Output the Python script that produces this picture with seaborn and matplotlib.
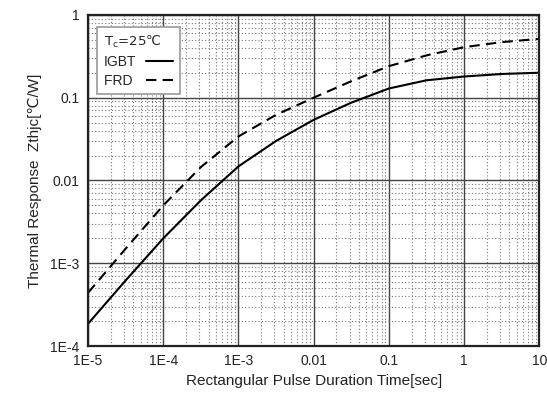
import numpy as np
import pandas as pd
import matplotlib
matplotlib.use("Agg")
import matplotlib.pyplot as plt
import matplotlib.ticker as mticker
from matplotlib.font_manager import FontProperties
import seaborn as sns

# Data (pulse duration [s], Zthjc [°C/W])
t = [1e-5, 3.16e-5, 1e-4, 3.16e-4, 1e-3, 3.16e-3, 1e-2, 3.16e-2, 1e-1, 3.16e-1, 1, 3.16, 10]
igbt = [1.86e-4, 6.2e-4, 2.0e-3, 5.75e-3, 1.48e-2, 3.0e-2, 5.4e-2, 8.7e-2, 0.129, 0.162, 0.18, 0.193, 0.2]
frd = [4.4e-4, 1.5e-3, 5.0e-3, 1.45e-2, 3.4e-2, 6.2e-2, 0.10, 0.158, 0.24, 0.324, 0.407, 0.468, 0.513]

x_ticks = [1e-5, 1e-4, 1e-3, 1e-2, 1e-1, 1, 10]
x_labels = ["1E-5", "1E-4", "1E-3", "0.01", "0.1", "1", "10"]
y_ticks = [1e-4, 1e-3, 1e-2, 1e-1, 1]
y_labels = ["1E-4", "1E-3", "0.01", "0.1", "1"]

sns.set_style("white")
plt.rcParams["font.family"] = ["Liberation Sans", "DejaVu Sans"]

df = pd.DataFrame({"t": t * 2, "z": igbt + frd,
                   "dev": ["IGBT"] * len(t) + ["FRD"] * len(t)})

fig = plt.figure(figsize=(5.47, 4.01), dpi=100)
ax = fig.add_axes([0.161, 0.137, 0.825, 0.826])

sns.lineplot(data=df[df.dev == "IGBT"], x="t", y="z", ax=ax, color="black",
             linewidth=1.5, label="IGBT")
sns.lineplot(data=df[df.dev == "FRD"], x="t", y="z", ax=ax, color="black",
             linewidth=1.5, linestyle=(0, (5, 3)), label="FRD")

ax.set_xscale("log")
ax.set_yscale("log")
ax.set_xlim(1e-5, 10)
ax.set_ylim(1e-4, 1)
ax.set_xticks(x_ticks)
ax.set_xticklabels(x_labels)
ax.set_yticks(y_ticks)
ax.set_yticklabels(y_labels)
ax.xaxis.set_minor_locator(mticker.LogLocator(base=10, subs=np.arange(2, 10)))
ax.yaxis.set_minor_locator(mticker.LogLocator(base=10, subs=np.arange(2, 10)))
ax.xaxis.set_minor_formatter(mticker.NullFormatter())
ax.yaxis.set_minor_formatter(mticker.NullFormatter())

ax.grid(True, which="major", color="#444444", linewidth=1.0)
ax.grid(True, which="minor", color="#777777", linewidth=0.8, linestyle=(0, (1, 2)))
ax.tick_params(axis="both", which="both", length=0, labelsize=10, pad=6, colors="#222222")
for s in ax.spines.values():
    s.set_color("#222222")
    s.set_linewidth(1.6)

ax.set_xlabel("Rectangular Pulse Duration Time[sec]", fontsize=11, color="#222222", labelpad=4)
ax.set_ylabel("Thermal Response  Zthjc[℃/W]", fontsize=11, color="#222222", labelpad=6)

handles, labels = ax.get_legend_handles_labels()
# pad labels to equal width so they appear left-aligned with handles at the right
labels = ["IGBT", "FRD "]
leg = ax.legend(handles, labels, title="T$_\\mathregular{c}$=25℃", loc="upper left",
                bbox_to_anchor=(0.02, 0.964),
                borderaxespad=0, markerfirst=False, frameon=True, fancybox=False, fontsize=10,
                title_fontproperties=FontProperties(family="DejaVu Sans", size=9.5),
                handlelength=1.9, handletextpad=0.7,
                borderpad=0.5, labelspacing=0.35, framealpha=1)
leg._legend_box.align = "left"
leg.get_frame().set_edgecolor("#999999")
leg.get_frame().set_linewidth(1.2)

fig.savefig("out.png", dpi=100)
